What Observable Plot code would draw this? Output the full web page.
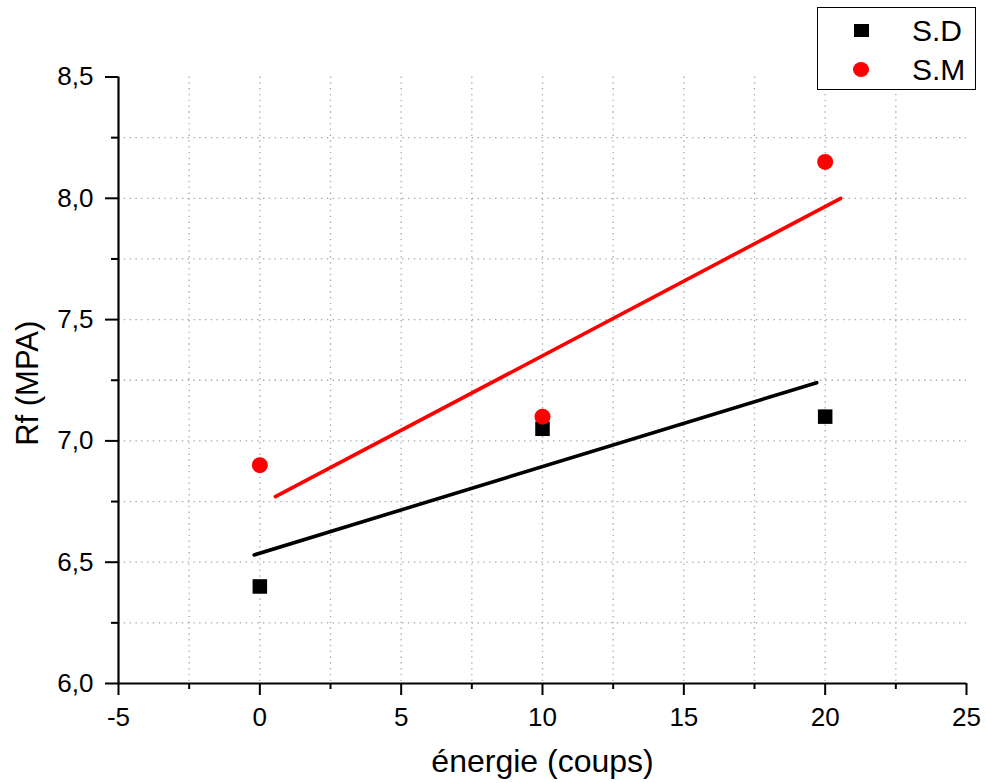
<!DOCTYPE html>
<html>
<head>
<meta charset="utf-8">
<script src="https://cdn.jsdelivr.net/npm/d3@7"></script>
<script src="https://cdn.jsdelivr.net/npm/@observablehq/plot@0.6"></script>
<style>
  body { margin: 0; background: #fff; font-family: "Liberation Sans", Arial, sans-serif; }
  #wrap { position: relative; width: 986px; height: 783px; }
  #legend {
    position: absolute; left: 817px; top: 7px; width: 157px; height: 81px;
    border: 1.5px solid #000; background: #fff; font-size: 30px; color: #000;
  }
  #legend .row { position: absolute; left: 0; height: 34px; }
  #legend .sym { position: absolute; }
  #legend .lab { position: absolute; left: 94px; line-height: 34px; }
</style>
</head>
<body>
<div id="wrap">
  <div id="chart"></div>
  <div id="legend">
    <div class="row" style="top:6px;width:157px;">
      <span class="sym" style="left:36px;top:10px;width:15px;height:13px;background:#000;"></span>
      <span class="lab" style="top:0">S.D</span>
    </div>
    <div class="row" style="top:45px;width:157px;">
      <span class="sym" style="left:35px;top:9px;width:16px;height:15px;background:#ff0000;border-radius:50%;"></span>
      <span class="lab" style="top:0">S.M</span>
    </div>
  </div>
</div>
<script>
// Compaction energy (blows) and flexural strength Rf (MPa)
const energie = [0, 10, 20];
const rfSD = [6.4, 7.05, 7.1];
const rfSM = [6.9, 7.1, 8.15];

// Linear trend lines (endpoints)
const trendSDx = [-0.2, 19.7];
const trendSDy = [6.53, 7.24];
const trendSMx = [0.55, 20.55];
const trendSMy = [6.77, 8.0];

// Ticks
const xMajor = [-5, 0, 5, 10, 15, 20, 25];
const xMinor = [-2.5, 2.5, 7.5, 12.5, 17.5, 22.5];
const yMajor = [6.0, 6.5, 7.0, 7.5, 8.0, 8.5];
const yMinor = [6.25, 6.75, 7.25, 7.75, 8.25];

const gridX = [-2.5, 0, 2.5, 5, 7.5, 10, 12.5, 15, 17.5, 20, 22.5];
const gridY = [6.25, 6.5, 6.75, 7.0, 7.25, 7.5, 7.75, 8.0, 8.25];

const sd = energie.map((x, i) => ({x, y: rfSD[i]}));
const sm = energie.map((x, i) => ({x, y: rfSM[i]}));
const lineSD = trendSDx.map((x, i) => ({x, y: trendSDy[i]}));
const lineSM = trendSMx.map((x, i) => ({x, y: trendSMy[i]}));

const comma = d => d.toFixed(1).replace(".", ",");
const gridStyle = {stroke: "#a8a8a8", strokeWidth: 1.3, strokeDasharray: "1.4,4.4"};

const chart = Plot.plot({
  width: 986,
  height: 783,
  marginLeft: 118,
  marginRight: 20,
  marginTop: 76.5,
  marginBottom: 100,
  style: {fontFamily: "'Liberation Sans', Arial, sans-serif", color: "#000", background: "#fff"},
  x: {domain: [-5, 25]},
  y: {domain: [6, 8.5]},
  marks: [
    Plot.ruleX(gridX, {...gridStyle}),
    Plot.ruleY(gridY, {x1: -5, x2: 25, ...gridStyle}),
    Plot.line(lineSD, {x: "x", y: "y", stroke: "#000", strokeWidth: 3.6}),
    Plot.line(lineSM, {x: "x", y: "y", stroke: "#ff0000", strokeWidth: 3.6}),
    Plot.dot(sd, {x: "x", y: "y", symbol: "square", r: 8.2, fill: "#000"}),
    Plot.dot(sm, {x: "x", y: "y", r: 8, fill: "#ff0000"}),
    Plot.axisX({ticks: xMajor, tickSize: 12, tickPadding: 12, fontSize: 26, strokeWidth: 2, tickFormat: d => String(d), label: null}),
    Plot.axisX({ticks: xMinor, tickSize: 6, strokeWidth: 2, text: null, label: null}),
    Plot.axisY({ticks: yMajor, tickSize: 13, tickPadding: 12, fontSize: 26, strokeWidth: 2, tickFormat: comma, label: null}),
    Plot.axisY({ticks: yMinor, tickSize: 7, strokeWidth: 2, text: null, label: null}),
    Plot.ruleY([6], {x1: -5, x2: 25, stroke: "#000", strokeWidth: 2.2}),
    Plot.ruleX([-5], {stroke: "#000", strokeWidth: 2.2}),
    Plot.text(["énergie (coups)"], {frameAnchor: "bottom", dy: 88, lineAnchor: "bottom", textAnchor: "middle", fontSize: 32, fill: "#000"}),
    Plot.text(["Rf (MPA)"], {frameAnchor: "left", dx: -81, dy: 3, rotate: -90, lineAnchor: "bottom", textAnchor: "middle", fontSize: 31, fill: "#000"})
  ]
});
document.getElementById("chart").append(chart);
</script>
</body>
</html>
